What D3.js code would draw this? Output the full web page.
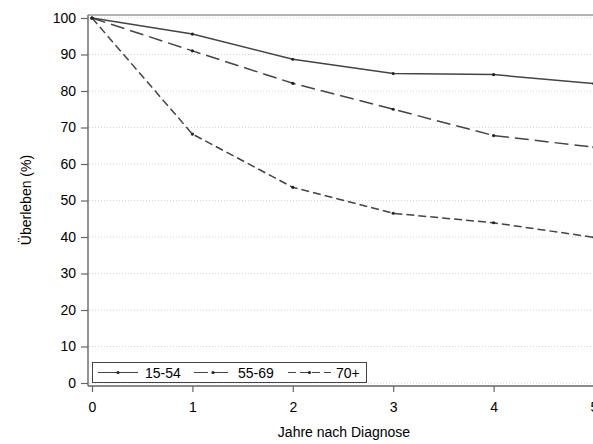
<!DOCTYPE html>
<html>
<head>
<meta charset="utf-8">
<script src="https://cdn.jsdelivr.net/npm/d3@7"></script>
<style>
html,body{margin:0;padding:0;background:#fff;overflow:hidden;}
text{font-family:"Liberation Sans",Arial,sans-serif;fill:#000;}
</style>
</head>
<body>
<svg id="chart" width="593" height="444"></svg>
<script>
const years = [0, 1, 2, 3, 4, 5];
const groups = ["15-54", "55-69", "70+"];
const s1554 = [100, 95.6, 88.7, 84.8, 84.5, 82.0];
const s5569 = [100, 91.0, 82.1, 75.0, 67.8, 64.6];
const s70 = [100, 68.2, 53.6, 46.5, 43.9, 39.9];
const yTicks = [0, 10, 20, 30, 40, 50, 60, 70, 80, 90, 100];
const xTicks = [0, 1, 2, 3, 4, 5];

const seriesList = [
  {name: groups[0], values: s1554, dash: null},
  {name: groups[1], values: s5569, dash: "14,6"},
  {name: groups[2], values: s70, dash: "8,4"}
];

const svg = d3.select("#chart");
const x = d3.scaleLinear().domain([0, 5]).range([92, 594]);
const y = d3.scaleLinear().domain([0, 100]).range([383, 18]);
const pLeft = 88, pTop = 15, pBottom = 386, pRight = 600;
const lineColor = "#444";
const axisColor = "#666";

// gridlines
svg.append("g").selectAll("line").data(yTicks).join("line")
  .attr("x1", pLeft + 1).attr("x2", pRight)
  .attr("y1", d => y(d)).attr("y2", d => y(d))
  .attr("stroke", "#d4d4d4").attr("stroke-width", 1)
  .attr("stroke-dasharray", "1,2");

// frame: top line
svg.append("line").attr("x1", pLeft).attr("x2", pRight).attr("y1", pTop).attr("y2", pTop)
  .attr("stroke", axisColor).attr("stroke-width", 1.2);

// y axis
const yAxis = d3.axisLeft(y).tickValues(yTicks).tickSize(7).tickPadding(5).tickFormat(d3.format("d"));
const gy = svg.append("g").attr("transform", `translate(${pLeft},0)`).call(yAxis);
gy.select(".domain").remove();
gy.selectAll(".tick line").attr("stroke", axisColor).attr("stroke-width", 1.2);
gy.selectAll(".tick text").attr("font-size", "14px").attr("fill", "#000")
  .style("font-family", "Liberation Sans, Arial, sans-serif");
svg.append("line").attr("x1", pLeft).attr("x2", pLeft).attr("y1", pTop).attr("y2", pBottom)
  .attr("stroke", axisColor).attr("stroke-width", 1.4);

// x axis
const xAxis = d3.axisBottom(x).tickValues(xTicks).tickSize(6).tickPadding(10).tickFormat(d3.format("d"));
const gx = svg.append("g").attr("transform", `translate(0,${pBottom})`).call(xAxis);
gx.select(".domain").remove();
gx.selectAll(".tick line").attr("stroke", axisColor).attr("stroke-width", 1.2);
gx.selectAll(".tick text").attr("font-size", "14px").attr("fill", "#000")
  .style("font-family", "Liberation Sans, Arial, sans-serif");
svg.append("line").attr("x1", pLeft).attr("x2", pRight).attr("y1", pBottom).attr("y2", pBottom)
  .attr("stroke", axisColor).attr("stroke-width", 1.4);

// axis labels
svg.append("text").attr("x", 344).attr("y", 437).attr("text-anchor", "middle")
  .attr("font-size", "14px").text("Jahre nach Diagnose");
svg.append("text").attr("transform", "translate(31,200) rotate(-90)").attr("text-anchor", "middle")
  .attr("font-size", "14px").text("Überleben (%)");

// lines
const line = d3.line().x((d, i) => x(years[i])).y(d => y(d));
seriesList.forEach(s => {
  svg.append("path").datum(s.values).attr("d", line)
    .attr("fill", "none").attr("stroke", lineColor).attr("stroke-width", 1.5)
    .attr("stroke-dasharray", s.dash);
  svg.append("g").selectAll("circle").data(s.values).join("circle")
    .attr("cx", (d, i) => x(years[i])).attr("cy", d => y(d)).attr("r", 1.6)
    .attr("fill", "#222");
});

// legend
const lg = svg.append("g");
lg.append("rect").attr("x", 92.5).attr("y", 362.5).attr("width", 274).attr("height", 20)
  .attr("fill", "#fff").attr("stroke", "#444").attr("stroke-width", 1);
const legendItems = [
  {x0: 98, x1: 138, tx: 145},
  {x0: 194, x1: 232, tx: 238},
  {x0: 288, x1: 331, tx: 336}
];
seriesList.forEach((s, i) => {
  const it = legendItems[i];
  lg.append("line").attr("x1", it.x0).attr("x2", it.x1).attr("y1", 372.5).attr("y2", 372.5)
    .attr("stroke", lineColor).attr("stroke-width", 1.2).attr("stroke-dasharray", s.dash);
  lg.append("circle").attr("cx", (it.x0 + it.x1) / 2).attr("cy", 372.5).attr("r", 1.6).attr("fill", "#222");
  lg.append("text").attr("x", it.tx).attr("y", 378).attr("font-size", "14px").text(s.name);
});
</script>
</body>
</html>
